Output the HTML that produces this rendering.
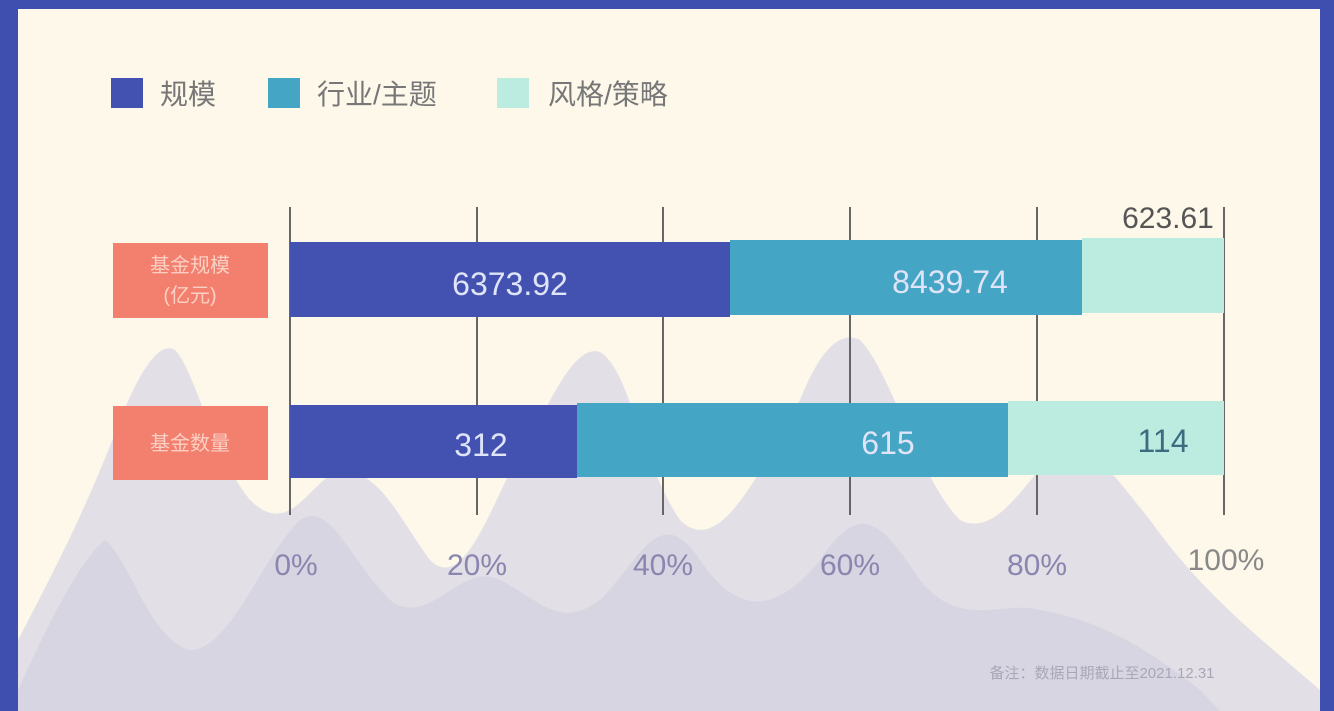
<!DOCTYPE html>
<html><head><meta charset="utf-8"><style>
body{margin:0;width:1334px;height:711px;overflow:hidden;background:#3f4fb0;font-family:"Liberation Sans","Noto Sans CJK SC",sans-serif;}
#c{position:absolute;left:18px;top:9px;width:1302px;height:700px;background:#fdf8ea;overflow:hidden}
.a{position:absolute}
</style></head><body>
<div id="c"></div>
<svg class="a" style="left:0;top:0" width="1334" height="711">
<rect x="18" y="9" width="1302" height="700" fill="#fdf8ea"/>
<path d="M18,711 L18,640 C60,560 90,500 120,420 C140,370 160,340 175,350 C195,370 210,450 250,500 C290,540 310,480 340,470 C380,470 400,520 430,560 C470,600 500,470 540,420 C560,380 580,345 600,352 C630,370 640,460 680,520 C720,560 760,470 800,400 C820,350 840,330 860,340 C890,370 920,480 960,520 C1000,540 1030,470 1060,450 C1090,440 1110,470 1150,520 C1200,590 1250,630 1320,690 L1320,711 Z" fill="#e3dfe6"/>
<path d="M18,711 L18,690 C50,620 80,560 105,540 C130,560 150,640 190,650 C230,650 260,560 300,520 C330,500 350,560 390,600 C430,630 460,560 500,580 C540,600 560,630 600,600 C640,560 660,500 700,560 C740,620 780,610 820,560 C860,500 880,520 920,580 C960,630 1000,600 1040,610 C1100,620 1150,650 1200,690 L1220,711 Z" fill="#d8d5e2"/>
<g stroke="#666" stroke-width="2">
<line x1="290" y1="207" x2="290" y2="515"/><line x1="477" y1="207" x2="477" y2="515"/><line x1="663" y1="207" x2="663" y2="515"/><line x1="850" y1="207" x2="850" y2="515"/><line x1="1037" y1="207" x2="1037" y2="515"/><line x1="1224" y1="207" x2="1224" y2="515"/>
</g>
<rect x="290" y="242" width="440" height="75" fill="#4352b0"/>
<rect x="730" y="240" width="352" height="75" fill="#45a5c4"/>
<rect x="1082" y="238" width="142" height="75" fill="#bcece0"/>
<rect x="290" y="405" width="287" height="73" fill="#4352b0"/>
<rect x="577" y="403" width="431" height="74" fill="#45a5c4"/>
<rect x="1008" y="401" width="216" height="74" fill="#bcece0"/>
<rect x="113" y="243" width="155" height="75" fill="#f3806f"/>
<rect x="113" y="406" width="155" height="74" fill="#f3806f"/>
<g font-family="Liberation Sans,Noto Sans CJK SC,sans-serif">
<text x="190" y="272" font-size="20" fill="#fbd0c4" text-anchor="middle">基金规模</text>
<text x="190" y="302" font-size="20" fill="#fbd0c4" text-anchor="middle">(亿元)</text>
<text x="190" y="450" font-size="20" fill="#fbd0c4" text-anchor="middle">基金数量</text>
<g font-size="32" fill="#dfe4f8" text-anchor="middle">
<text x="510" y="295">6373.92</text><text x="950" y="293">8439.74</text>
<text x="481" y="456">312</text><text x="888" y="454">615</text>
<text x="1163" y="452" fill="#3d6c80">114</text>
<text x="1168" y="228" fill="#555" font-size="30">623.61</text>
</g>
<g font-size="30" fill="#8a86b0" text-anchor="middle">
<text x="296" y="575">0%</text><text x="477" y="575">20%</text><text x="663" y="575">40%</text><text x="850" y="575">60%</text><text x="1037" y="575">80%</text><text x="1226" y="570" fill="#888">100%</text>
</g>
<text x="1102" y="678" font-size="15" fill="#a9a6b8" text-anchor="middle">备注：数据日期截止至2021.12.31</text>
<rect x="111" y="78" width="32" height="30" fill="#4352b0"/>
<text x="160" y="104" font-size="28" fill="#777">规模</text>
<rect x="268" y="78" width="32" height="30" fill="#45a5c4"/>
<text x="317" y="104" font-size="28" fill="#777">行业/主题</text>
<rect x="497" y="78" width="32" height="30" fill="#bcece0"/>
<text x="548" y="104" font-size="28" fill="#777">风格/策略</text>
</g>
</svg>
</body></html>
